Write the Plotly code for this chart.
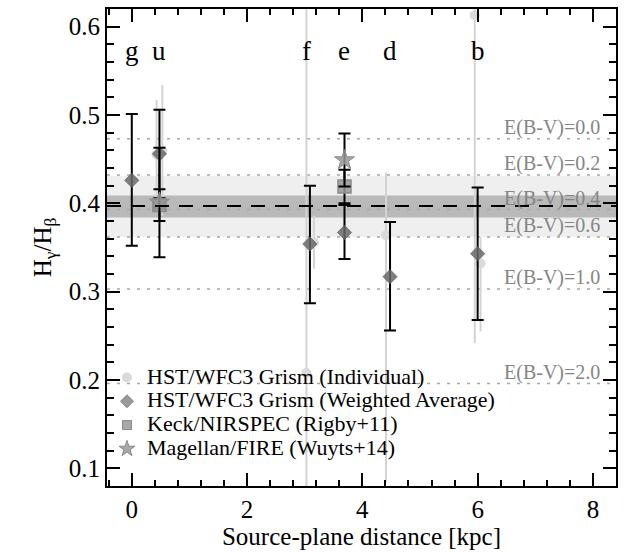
import plotly.graph_objects as go

FONT = "Liberation Serif"

# Individual grism measurements (light circles)
ind_x = [0.43, 0.53, 3.03, 3.16, 4.41, 5.95, 6.05]
ind_y = [0.455, 0.460, 0.208, 0.356, 0.364, 0.613, 0.332]
ind_up = [0.062, 0.074, 0.45, 0.03, 0.071, 0.10, 0.03]
ind_dn = [0.062, 0.074, 0.20, 0.03, 0.280, 0.371, 0.077]

# Weighted averages (diamonds)
avg_x = [0.0, 0.48, 3.09, 3.69, 4.48, 6.0]
avg_y = [0.426, 0.456, 0.354, 0.367, 0.317, 0.343]
avg_up = [0.075, 0.050, 0.066, 0.031, 0.062, 0.075]
avg_dn = [0.074, 0.050, 0.067, 0.030, 0.061, 0.075]

# Keck/NIRSPEC (squares)
keck_x = [0.48, 3.69]
keck_y = [0.398, 0.419]
keck_err = [0.018, 0.019]

# Magellan/FIRE (stars)
fire_x = [0.48, 3.69]
fire_y = [0.401, 0.449]
fire_err = [0.062, 0.030]

# Reddening reference lines
ebv_vals = [0.473, 0.432, 0.393, 0.362, 0.303, 0.196]
ebv_labels = ["E(B-V)=0.0", "E(B-V)=0.2", "E(B-V)=0.4", "E(B-V)=0.6", "E(B-V)=1.0", "E(B-V)=2.0"]

median_val = 0.397
dark_band = [0.384, 0.409]
light_band = [0.362, 0.431]

clump_names = ["g", "u", "f", "e", "d", "b"]
clump_x = [0.0, 0.48, 3.03, 3.69, 4.48, 6.0]
clump_label_y = 0.573

legend_names = ["HST/WFC3 Grism (Individual)", "HST/WFC3 Grism (Weighted Average)",
                "Keck/NIRSPEC (Rigby+11)", "Magellan/FIRE (Wuyts+14)"]


def big(t):
    return '<span style="font-size:22px">' + t + '</span>'


fig = go.Figure()

# bands
fig.add_hrect(y0=light_band[0], y1=light_band[1], fillcolor="#efefef", line_width=0, layer="below")
fig.add_hrect(y0=dark_band[0], y1=dark_band[1], fillcolor="#b9b9b9", line_width=0, layer="below")

for v, lab in zip(ebv_vals, ebv_labels):
    fig.add_hline(y=v, line=dict(color="#a6a6a6", width=1.5, dash="3px,7px"), layer="below")
    fig.add_annotation(x=0.973, xref="paper", y=v, yref="y", text=lab, showarrow=False,
                       xanchor="right", yanchor="bottom", yshift=-2,
                       font=dict(family=FONT, size=20, color="#858585"))

fig.add_hline(y=median_val, line=dict(color="black", width=2, dash="14px,10px"))

# individual points
fig.add_trace(go.Scatter(
    x=ind_x, y=ind_y, mode="markers", showlegend=False,
    marker=dict(symbol="circle", size=10, color="#dadada"),
    error_y=dict(type="data", symmetric=False, array=ind_up, arrayminus=ind_dn,
                 color="#d3d3d3", thickness=2, width=0)))

# weighted averages
fig.add_trace(go.Scatter(
    x=avg_x, y=avg_y, mode="markers", showlegend=False,
    marker=dict(symbol="diamond", size=11, color="rgba(105,105,105,0.85)",
                line=dict(color="rgba(90,90,90,0.6)", width=1)),
    error_y=dict(type="data", symmetric=False, array=avg_up, arrayminus=avg_dn,
                 color="black", thickness=2, width=6)))

# Keck
fig.add_trace(go.Scatter(
    x=keck_x, y=keck_y, mode="markers", showlegend=False,
    marker=dict(symbol="square", size=13, color="rgba(150,150,150,0.85)",
                line=dict(color="#8a8a8a", width=1.5)),
    error_y=dict(type="data", array=keck_err, color="black", thickness=2, width=6)))

# FIRE
fig.add_trace(go.Scatter(
    x=fire_x, y=fire_y, mode="markers", showlegend=False,
    marker=dict(symbol="star", size=15, color="rgba(150,150,150,0.85)",
                line=dict(color="#8a8a8a", width=1)),
    error_y=dict(type="data", array=fire_err, color="black", thickness=2, width=6)))

# legend entries
leg_markers = [
    dict(symbol="circle", size=10, color="#dadada"),
    dict(symbol="diamond", size=10, color="#9a9a9a", line=dict(color="#888", width=1)),
    dict(symbol="square", size=9, color="#a8a8a8", line=dict(color="#8a8a8a", width=1)),
    dict(symbol="star", size=12, color="#a8a8a8", line=dict(color="#8a8a8a", width=1)),
]
for nm, mk in zip(legend_names, leg_markers):
    fig.add_trace(go.Scatter(x=[None], y=[None], mode="markers", name=big(nm), marker=mk))

for nm, cx in zip(clump_names, clump_x):
    fig.add_annotation(x=cx, y=clump_label_y, text=nm, showarrow=False,
                       xanchor="center", yanchor="middle",
                       font=dict(family=FONT, size=27, color="black"))

axis_common = dict(showgrid=False, zeroline=False, showline=True, linecolor="black", linewidth=2,
                   mirror="allticks", ticks="inside", ticklen=13, tickwidth=1.5, tickcolor="black",
                   tickfont=dict(family=FONT, size=25, color="black"))

fig.update_xaxes(range=[-0.43, 8.4], dtick=2, tick0=0,
                 minor=dict(dtick=0.4, tick0=0, ticks="inside", ticklen=6, tickwidth=1.5, tickcolor="black"),
                 title=dict(text="Source-plane distance [kpc]", font=dict(family=FONT, size=25, color="black"),
                            standoff=4),
                 **axis_common)
fig.update_yaxes(range=[0.08, 0.62], dtick=0.1, tick0=0, tickformat=".1f",
                 minor=dict(dtick=0.02, tick0=0, ticks="inside", ticklen=7, tickwidth=1.5, tickcolor="black"),
                 title=dict(text="H<sub>γ</sub>/H<sub>β</sub>", font=dict(family=FONT, size=25, color="black"),
                            standoff=10),
                 **axis_common)

fig.update_layout(
    width=625, height=552,
    margin=dict(l=107, r=7, t=7, b=66),
    plot_bgcolor="white", paper_bgcolor="white",
    font=dict(family=FONT, color="black"),
    legend=dict(x=0.0, y=0.263, xanchor="left", yanchor="top", bgcolor="rgba(0,0,0,0)",
                font=dict(family=FONT, size=16, color="black"), tracegroupgap=0,
                itemwidth=30),
)

fig.write_html("out.html")
